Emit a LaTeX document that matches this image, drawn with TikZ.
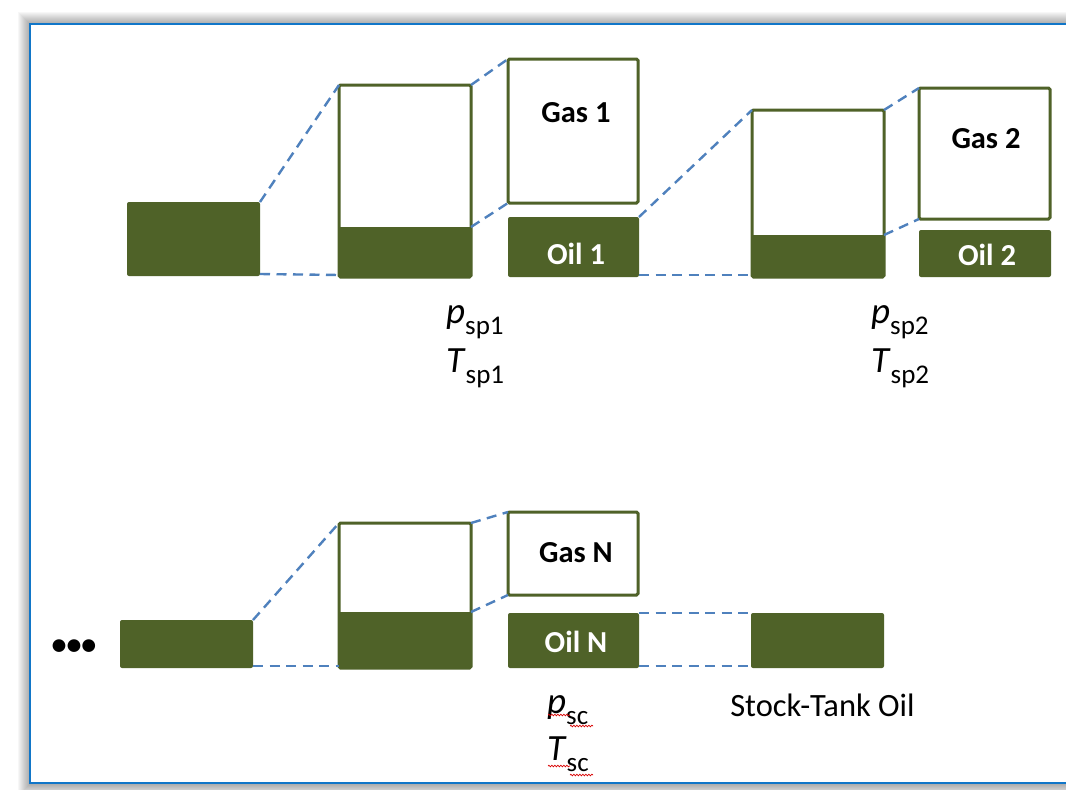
\documentclass[tikz,border=0pt]{standalone}
\usepackage{fontspec}
\setmainfont{Carlito}
\usetikzlibrary{decorations.pathmorphing}
\definecolor{olivebox}{HTML}{4F6228}
\definecolor{dashblue}{HTML}{4F81BD}
\definecolor{frameblue}{HTML}{1176C8}
\newcommand\subsc[1]{\raisebox{-11pt}{\fontsize{27}{30}\selectfont #1}}
\begin{document}
\begin{tikzpicture}[x=1pt,y=-1pt,
  solidbox/.style={fill=olivebox, draw=none, rounded corners=2pt, inner sep=0pt, outer sep=0pt, anchor=north west},
  fillpart/.style={fill=olivebox, draw=none, inner sep=0pt, outer sep=0pt, anchor=north west},
  openbox/.style={draw=olivebox, line width=3pt, rounded corners=1.5pt, inner sep=0pt, outer sep=0pt, anchor=north west},
  link/.style={dashblue, dash pattern=on 10pt off 6.5pt, line width=2.4pt},
  boxtext/.style={font=\fontsize{30.5}{34}\selectfont\bfseries, inner sep=0pt},
  oiltext/.style={boxtext, text=white},
  vartext/.style={font=\fontsize{37}{40}\selectfont, inner sep=0pt, anchor=base west},
  labeltext/.style={font=\fontsize{32.5}{36}\selectfont, inner sep=0pt, anchor=base},
  wavy/.style={red!85!black, line width=0.7pt, decorate, decoration={snake, segment length=3pt, amplitude=0.8pt}}
]
\useasboundingbox (0,0) rectangle (1066,790);
\clip (0,0) rectangle (1066,790);
% frame with shadow
\foreach \i in {1,...,12}{
  \fill[black, opacity=0.03] ({30-\i},{24-\i}) rectangle (1090,{784+\i});
}
\fill[white] (30,24) rectangle (1090,783);
\draw[frameblue, line width=2.5pt] (30,24) rectangle (1090,783);

% ---------- top row nodes ----------
\node[solidbox, minimum width=133pt, minimum height=74pt] (A) at (127,202) {};
\node[fillpart, minimum width=132pt, minimum height=50pt] (Bf) at (339,227) {};
\node[openbox, minimum width=132pt, minimum height=192pt] (B) at (339,85) {};
\node[openbox, minimum width=130pt, minimum height=144pt] (G1) at (508,59) {};
\node[solidbox, minimum width=131pt, minimum height=60pt] (O1) at (508,217) {};
\node[fillpart, minimum width=132pt, minimum height=42pt] (Cf) at (752,235) {};
\node[openbox, minimum width=132pt, minimum height=167pt] (C) at (752,110) {};
\node[openbox, minimum width=131pt, minimum height=131pt] (G2) at (919,88) {};
\node[solidbox, minimum width=132pt, minimum height=47pt] (O2) at (919,230) {};

% ---------- bottom row nodes ----------
\node[solidbox, minimum width=133pt, minimum height=48pt] (D) at (120,620) {};
\node[fillpart, minimum width=132pt, minimum height=56pt] (Ef) at (339,612) {};
\node[openbox, minimum width=132pt, minimum height=145pt] (E) at (339,523) {};
\node[openbox, minimum width=130pt, minimum height=83pt] (GN) at (508,512) {};
\node[solidbox, minimum width=131pt, minimum height=55pt] (ON) at (508,613) {};
\node[solidbox, minimum width=133pt, minimum height=55pt] (S) at (751,613) {};

% ---------- connectors ----------
\draw[link] (A.north east) -- (B.north west);
\draw[link] ([yshift=2pt]A.south east) -- ([yshift=2pt]B.south west);
\draw[link] (B.north east) -- (G1.north west);
\draw[link] (Bf.north east) -- (G1.south west);
\draw[link] (O1.north east) -- (C.north west);
\draw[link] ([yshift=2pt]O1.south east) -- ([yshift=2pt]C.south west);
\draw[link] (C.north east) -- (G2.north west);
\draw[link] (Cf.north east) -- (G2.south west);
\draw[link] (D.north east) -- (E.north west);
\draw[link] ([yshift=2pt]D.south east) -- ([yshift=2pt]E.south west);
\draw[link] (E.north east) -- (GN.north west);
\draw[link] (Ef.north east) -- (GN.south west);
\draw[link] (ON.north east) -- (S.north west);
\draw[link] ([yshift=2pt]ON.south east) -- ([yshift=2pt]S.south west);

% ---------- box labels ----------
\node[boxtext] (g1t) at (576,113) {Gas 1};
\node[boxtext] (g2t) at (986,139) {Gas 2};
\node[boxtext] (gnt) at (576,553) {Gas N};
\node[oiltext] (o1t) at (576,254) {Oil 1};
\node[oiltext] (o2t) at (987,255) {Oil 2};
\node[oiltext] (ont) at (576,642) {Oil N};

% ---------- conditions ----------
\node[vartext] (p1) at (446,323) {\textit{p}\subsc{sp1}};
\node[vartext] (t1) at (446,372) {\textit{T}\subsc{sp1}};
\node[vartext] (p2) at (871,323) {\textit{p}\subsc{sp2}};
\node[vartext] (t2) at (871,372) {\textit{T}\subsc{sp2}};
\node[vartext] (psc) at (547,713) {\textit{p}\subsc{sc}};
\node[vartext] (tsc) at (547,760) {\textit{T}\subsc{sc}};
\node[labeltext] (sto) at (822.5,716) {Stock-Tank Oil};
\node[font=\fontsize{30}{34}\selectfont\bfseries, inner sep=0pt] (dots) at (74,647) {•••};

% spelling marks
\draw[wavy] (548,715) -- (570,715);
\draw[wavy] (570,726) -- (593,726);
\draw[wavy] (548,766) -- (570,766);
\draw[wavy] (570,775) -- (593,775);
\end{tikzpicture}
\end{document}
